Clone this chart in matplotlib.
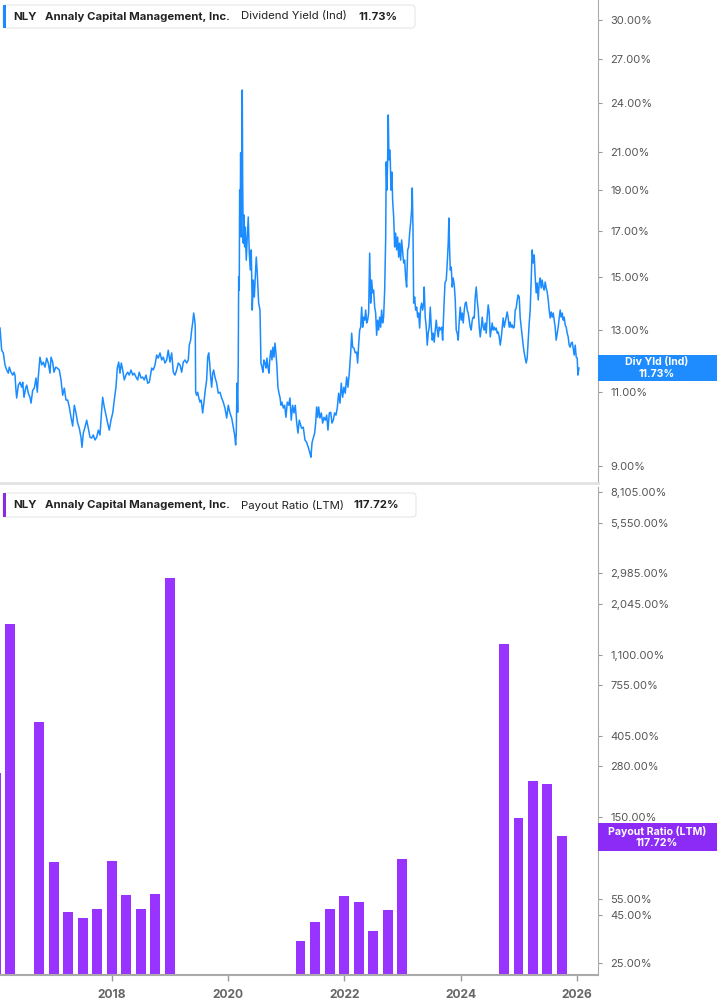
import numpy as np
import pandas as pd
import matplotlib
matplotlib.use('Agg')
import matplotlib.pyplot as plt
from matplotlib.patches import FancyBboxPatch, Rectangle
from matplotlib.ticker import FixedLocator, FuncFormatter, NullLocator

plt.rcParams['font.family'] = ['Inter', 'DejaVu Sans']

# dividend yield (ind), % -- x as decimal year
yld_years = [
    2016.072, 2016.101, 2016.129, 2016.158, 2016.187, 2016.215, 2016.232, 2016.261, 2016.291, 2016.313,
    2016.330, 2016.347, 2016.359, 2016.387, 2016.416, 2016.445, 2016.463, 2016.485, 2016.514, 2016.532,
    2016.559, 2016.588, 2016.606, 2016.635, 2016.662, 2016.692, 2016.714, 2016.731, 2016.760, 2016.790,
    2016.817, 2016.846, 2016.876, 2016.903, 2016.933, 2016.950, 2016.979, 2017.001, 2017.031, 2017.058,
    2017.093, 2017.122, 2017.151, 2017.179, 2017.208, 2017.237, 2017.265, 2017.294, 2017.323, 2017.351,
    2017.380, 2017.409, 2017.437, 2017.466, 2017.483, 2017.506, 2017.535, 2017.564, 2017.592, 2017.621,
    2017.650, 2017.678, 2017.707, 2017.736, 2017.764, 2017.793, 2017.822, 2017.839, 2017.867, 2017.896,
    2017.925, 2017.953, 2017.982, 2018.012, 2018.039, 2018.068, 2018.091, 2018.115, 2018.137, 2018.160,
    2018.184, 2018.211, 2018.240, 2018.270, 2018.297, 2018.327, 2018.356, 2018.383, 2018.413, 2018.442,
    2018.469, 2018.499, 2018.528, 2018.555, 2018.585, 2018.614, 2018.642, 2018.683, 2018.710, 2018.740,
    2018.769, 2018.796, 2018.826, 2018.855, 2018.882, 2018.912, 2018.941, 2018.968, 2018.998, 2019.027,
    2019.055, 2019.084, 2019.113, 2019.141, 2019.170, 2019.199, 2019.227, 2019.256, 2019.285, 2019.313,
    2019.330, 2019.354, 2019.371, 2019.388, 2019.406, 2019.423, 2019.433, 2019.440, 2019.457, 2019.474,
    2019.492, 2019.514, 2019.536, 2019.560, 2019.583, 2019.605, 2019.629, 2019.647, 2019.664, 2019.681,
    2019.698, 2019.715, 2019.733, 2019.750, 2019.772, 2019.801, 2019.829, 2019.858, 2019.887, 2019.915,
    2019.944, 2019.974, 2020.001, 2020.030, 2020.060, 2020.087, 2020.111, 2020.128, 2020.139, 2020.151,
    2020.163, 2020.173, 2020.180, 2020.190, 2020.197, 2020.208, 2020.214, 2020.225, 2020.237, 2020.242,
    2020.249, 2020.259, 2020.271, 2020.283, 2020.294, 2020.311, 2020.328, 2020.345, 2020.363, 2020.380,
    2020.397, 2020.414, 2020.431, 2020.449, 2020.466, 2020.483, 2020.500, 2020.524, 2020.547, 2020.564,
    2020.581, 2020.598, 2020.615, 2020.633, 2020.650, 2020.667, 2020.684, 2020.701, 2020.719, 2020.736,
    2020.753, 2020.770, 2020.788, 2020.805, 2020.822, 2020.839, 2020.856, 2020.874, 2020.891, 2020.908,
    2020.925, 2020.948, 2020.972, 2020.994, 2021.017, 2021.041, 2021.063, 2021.085, 2021.109, 2021.132,
    2021.154, 2021.178, 2021.201, 2021.223, 2021.264, 2021.292, 2021.321, 2021.350, 2021.378, 2021.407,
    2021.424, 2021.442, 2021.464, 2021.488, 2021.505, 2021.522, 2021.540, 2021.557, 2021.579, 2021.602,
    2021.626, 2021.648, 2021.671, 2021.695, 2021.717, 2021.740, 2021.764, 2021.786, 2021.808, 2021.832,
    2021.855, 2021.877, 2021.901, 2021.924, 2021.946, 2021.970, 2021.992, 2022.015, 2022.039, 2022.061,
    2022.084, 2022.108, 2022.125, 2022.142, 2022.164, 2022.187, 2022.211, 2022.228, 2022.245, 2022.263,
    2022.280, 2022.297, 2022.314, 2022.331, 2022.349, 2022.366, 2022.383, 2022.400, 2022.417, 2022.435,
    2022.452, 2022.469, 2022.486, 2022.503, 2022.521, 2022.538, 2022.555, 2022.572, 2022.589, 2022.607,
    2022.624, 2022.641, 2022.658, 2022.675, 2022.693, 2022.710, 2022.720, 2022.732, 2022.744, 2022.755,
    2022.767, 2022.779, 2022.789, 2022.801, 2022.818, 2022.830, 2022.848, 2022.865, 2022.882, 2022.899,
    2022.916, 2022.934, 2022.951, 2022.968, 2022.985, 2023.003, 2023.020, 2023.037, 2023.054, 2023.071,
    2023.089, 2023.106, 2023.123, 2023.140, 2023.157, 2023.168, 2023.180, 2023.192, 2023.209, 2023.226,
    2023.244, 2023.261, 2023.278, 2023.295, 2023.312, 2023.329, 2023.347, 2023.364, 2023.374, 2023.391,
    2023.409, 2023.426, 2023.443, 2023.460, 2023.478, 2023.495, 2023.512, 2023.529, 2023.546, 2023.564,
    2023.581, 2023.598, 2023.615, 2023.632, 2023.644, 2023.674, 2023.691, 2023.713, 2023.731, 2023.753,
    2023.770, 2023.787, 2023.799, 2023.811, 2023.822, 2023.839, 2023.856, 2023.873, 2023.891, 2023.908,
    2023.925, 2023.942, 2023.959, 2023.977, 2023.994, 2024.011, 2024.028, 2024.045, 2024.063, 2024.080,
    2024.097, 2024.114, 2024.131, 2024.149, 2024.166, 2024.183, 2024.200, 2024.217, 2024.235, 2024.252,
    2024.269, 2024.286, 2024.303, 2024.321, 2024.338, 2024.355, 2024.372, 2024.389, 2024.407, 2024.424,
    2024.441, 2024.458, 2024.475, 2024.493, 2024.510, 2024.527, 2024.544, 2024.561, 2024.579, 2024.596,
    2024.613, 2024.630, 2024.647, 2024.665, 2024.682, 2024.699, 2024.716, 2024.733, 2024.751, 2024.768,
    2024.785, 2024.802, 2024.819, 2024.837, 2024.854, 2024.871, 2024.888, 2024.905, 2024.923, 2024.940,
    2024.957, 2024.974, 2024.991, 2025.009, 2025.026, 2025.043, 2025.060, 2025.077, 2025.095, 2025.112,
    2025.129, 2025.146, 2025.163, 2025.181, 2025.198, 2025.215, 2025.232, 2025.250, 2025.267, 2025.284,
    2025.301, 2025.318, 2025.336, 2025.353, 2025.370, 2025.387, 2025.404, 2025.422, 2025.439, 2025.456,
    2025.473, 2025.491, 2025.508, 2025.525, 2025.542, 2025.559, 2025.577, 2025.594, 2025.611, 2025.628,
    2025.645, 2025.663, 2025.680, 2025.697, 2025.714, 2025.731, 2025.749, 2025.766, 2025.783, 2025.800,
    2025.818, 2025.835, 2025.852, 2025.869, 2025.886, 2025.904, 2025.921, 2025.938, 2025.955, 2025.973,
    2025.990, 2026.007, 2026.019, 2026.037,
]
yld_vals = [
    13.07, 12.31, 12.22, 11.83, 11.67, 11.57, 11.76, 11.60, 11.51, 11.60,
    11.51, 11.05, 10.82, 11.20, 11.29, 11.14, 11.29, 10.84, 11.11, 11.20,
    10.96, 10.84, 10.67, 11.05, 11.11, 11.42, 10.99, 11.45, 12.08, 11.83,
    11.92, 11.76, 12.05, 11.89, 11.57, 12.08, 11.92, 11.60, 11.76, 11.73,
    11.67, 11.36, 10.90, 11.11, 10.76, 10.76, 10.56, 10.27, 10.03, 10.61,
    10.39, 10.11, 9.97, 9.73, 9.47, 9.84, 10.00, 10.19, 9.97, 9.73,
    9.71, 9.79, 9.66, 9.73, 9.92, 9.79, 10.47, 10.84, 10.56, 10.33,
    10.11, 9.92, 10.19, 10.39, 10.76, 11.14, 11.73, 11.92, 11.57, 11.89,
    11.67, 11.36, 11.51, 11.60, 11.51, 11.67, 11.51, 11.57, 11.45, 11.36,
    11.60, 11.42, 11.45, 11.36, 11.51, 11.26, 11.29, 11.73, 11.67, 11.83,
    12.15, 12.05, 12.22, 11.99, 12.08, 11.89, 11.99, 12.31, 11.92, 12.22,
    11.60, 11.51, 11.67, 11.89, 11.83, 11.60, 11.92, 11.99, 11.89, 11.99,
    12.48, 12.65, 13.00, 13.25, 13.61, 13.35, 13.10, 10.99, 10.90, 10.99,
    10.84, 10.70, 10.76, 10.39, 10.70, 11.05, 11.36, 12.08, 12.22, 11.89,
    11.45, 11.14, 11.57, 11.67, 11.45, 11.26, 10.96, 10.99, 10.82, 10.70,
    10.53, 10.25, 10.61, 10.39, 10.25, 10.00, 9.79, 9.53, 9.84, 11.26,
    10.41, 11.89, 15.00, 14.48, 18.97, 18.12, 20.98, 16.71, 22.48, 24.86,
    19.34, 16.44, 17.74, 16.27, 17.17, 15.70, 16.71, 17.64, 16.00, 15.29,
    16.14, 13.72, 14.88, 14.21, 15.00, 15.83, 15.16, 13.98, 13.72, 11.89,
    11.76, 11.60, 11.99, 11.89, 11.73, 12.05, 11.76, 11.57, 12.08, 12.31,
    11.99, 12.41, 12.08, 12.55, 12.22, 11.76, 11.14, 10.96, 10.84, 10.61,
    10.70, 10.53, 10.61, 10.27, 10.70, 10.61, 10.82, 10.19, 10.61, 10.39,
    10.61, 10.14, 9.84, 10.19, 9.97, 10.00, 9.66, 9.60, 9.47, 9.32,
    9.22, 9.58, 9.71, 9.84, 10.11, 10.56, 10.27, 10.56, 10.25, 10.39,
    10.11, 10.27, 10.19, 10.33, 9.92, 10.39, 10.41, 10.11, 10.19, 10.39,
    10.33, 10.53, 10.96, 10.67, 11.26, 10.84, 11.14, 10.96, 11.45, 11.14,
    11.57, 12.22, 12.89, 12.41, 12.38, 12.22, 12.25, 11.89, 12.48, 13.00,
    13.10, 13.83, 13.10, 13.46, 13.35, 13.72, 13.25, 13.35, 13.61, 16.00,
    13.98, 14.88, 14.37, 14.48, 13.83, 13.61, 12.82, 13.35, 13.00, 13.46,
    13.10, 13.72, 13.25, 13.46, 14.48, 16.58, 20.47, 18.97, 20.58, 23.24,
    20.58, 21.15, 20.69, 18.97, 19.92, 18.47, 17.64, 16.27, 16.89, 16.14,
    16.71, 15.83, 16.44, 15.70, 16.58, 16.05, 15.58, 15.70, 15.00, 14.60,
    16.14, 16.27, 16.89, 17.36, 17.98, 19.08, 17.17, 13.98, 14.21, 13.72,
    13.83, 13.46, 13.61, 13.07, 13.79, 13.98, 13.72, 13.98, 14.60, 13.46,
    13.10, 12.48, 12.89, 13.10, 13.83, 13.10, 12.65, 12.89, 12.58, 13.00,
    13.35, 13.00, 12.76, 13.10, 13.00, 13.10, 12.65, 13.83, 14.76, 14.88,
    15.58, 16.44, 17.59, 16.14, 15.29, 15.41, 14.60, 14.96, 14.68, 14.10,
    13.00, 12.89, 12.65, 13.35, 13.83, 13.35, 13.61, 13.25, 13.72, 13.98,
    14.02, 13.72, 13.61, 13.35, 13.10, 13.00, 13.35, 13.46, 13.43, 14.21,
    14.60, 14.10, 13.72, 13.10, 12.76, 13.07, 13.46, 13.10, 13.00, 13.25,
    12.89, 13.46, 13.91, 13.61, 12.76, 13.00, 13.25, 13.00, 13.10, 13.00,
    13.07, 12.89, 12.93, 12.76, 12.48, 12.72, 13.07, 13.43, 13.10, 13.28,
    13.46, 13.65, 13.43, 13.10, 13.28, 13.10, 13.18, 13.07, 13.10, 13.72,
    13.79, 14.10, 14.29, 14.21, 13.43, 13.10, 12.76, 12.48, 12.22, 12.05,
    11.89, 12.05, 12.65, 13.25, 13.72, 14.88, 16.14, 15.58, 15.92, 15.00,
    14.37, 14.76, 14.10, 14.76, 14.96, 14.56, 14.88, 14.60, 14.48, 14.80,
    14.56, 14.40, 14.10, 13.72, 13.43, 13.65, 13.46, 13.61, 13.35, 13.10,
    12.65, 12.89, 13.10, 13.43, 13.72, 13.46, 13.61, 13.35, 13.46, 13.18,
    13.10, 12.89, 12.76, 12.48, 12.41, 12.55, 12.58, 12.38, 12.15, 12.48,
    12.08, 12.05, 11.51, 11.73,
]

# payout ratio (LTM), % -- quarter ends
payout_dates = ['2015-12-31', '2016-03-31', '2016-09-30', '2016-12-31', '2017-03-31',
                '2017-06-30', '2017-09-30', '2017-12-31', '2018-03-31', '2018-06-30',
                '2018-09-30', '2018-12-31',
                '2021-03-31', '2021-06-30', '2021-09-30', '2021-12-31', '2022-03-31',
                '2022-06-30', '2022-09-30', '2022-12-31',
                '2024-09-30', '2024-12-31', '2025-03-31', '2025-06-30', '2025-09-30']
payout_vals = [257, 1600, 481, 85.3, 45.6, 42.4, 47.3, 86.3, 56.9, 47.3, 57.6, 2815,
               31.6, 40.3, 47.3, 56.2, 51.6, 36.1, 46.8, 88.5,
               1252, 148, 233, 225, 117.72]

yld_ticks = [9, 11, 13, 15, 17, 19, 21, 24, 27, 30]
payout_ticks = [25, 45, 55, 105, 150, 280, 405, 755, 1100, 2045, 2985, 5550, 8105]
year_ticks = [2018, 2020, 2022, 2024, 2026]

BLUE = '#1a8cff'
PURPLE = '#9933ff'
W, H = 717, 1005

fig = plt.figure(figsize=(W / 100, H / 100), dpi=100)


def fx(px):
    return px / W


def fy(py):
    return 1 - py / H


ax1 = fig.add_axes([0, fy(483), fx(598), 483 / H])
ax2 = fig.add_axes([0, fy(975), fx(598), (975 - 487) / H])

# top: dividend yield line
ax1.plot(yld_years, yld_vals, color=BLUE, lw=1.1)
ax1.set_yscale('log')
ax1.set_ylim(8.60, 31.7)

# bottom: payout ratio bars
d = pd.to_datetime(payout_dates)
bar_x = d.year + (d.dayofyear - 1) / np.where(d.is_leap_year, 366, 365)
ax2.set_yscale('log')
ax2.bar(bar_x, payout_vals, width=0.17, bottom=1, color=PURPLE, linewidth=0)
ax2.set_ylim(21.6, 8593)

for ax in (ax1, ax2):
    ax.set_xlim(2016.072, 2026.365)
    ax.yaxis.tick_right()
    ax.yaxis.set_minor_locator(NullLocator())
    ax.spines['top'].set_visible(False)
    ax.spines['left'].set_visible(False)
    ax.spines['right'].set_color('#aaaaaa')
    ax.tick_params(axis='y', direction='out', length=3, width=0.8, color='#999999',
                   labelsize=8, labelcolor='#555555', pad=6)

ax1.yaxis.set_major_locator(FixedLocator(yld_ticks))
ax1.yaxis.set_major_formatter(FuncFormatter(lambda v, p: f'{v:.2f}%'))
ax1.set_xticks([])
ax1.spines['bottom'].set_color('#e2e2e2')
ax1.spines['bottom'].set_linewidth(2)

ax2.yaxis.set_major_locator(FixedLocator(payout_ticks))
ax2.yaxis.set_major_formatter(FuncFormatter(lambda v, p: f'{v:,.2f}%'))
ax2.spines['bottom'].set_color('#aaaaaa')
ax2.spines['bottom'].set_linewidth(1.5)
ax2.set_xticks(year_ticks)
ax2.set_xticklabels([str(y) for y in year_ticks])
ax2.tick_params(axis='x', direction='out', length=4, width=1, color='#999999',
                labelsize=8.7, labelcolor='#666666', pad=6)
for lab in ax2.get_xticklabels():
    lab.set_fontweight('bold')


def title_box(top, bottom, right, color, parts):
    fig.add_artist(FancyBboxPatch((fx(3), fy(bottom)), fx(right - 3), (bottom - top) / H,
                                  boxstyle='round,pad=0,rounding_size=0.004',
                                  transform=fig.transFigure, fc='white', ec='#e6e6e6', lw=0.8))
    fig.add_artist(Rectangle((fx(3), fy(bottom)), fx(3), (bottom - top) / H,
                             transform=fig.transFigure, fc=color, ec='none'))
    yc = fy((top + bottom) / 2)
    for xpx, txt, wt in parts:
        fig.text(fx(xpx), yc, txt, fontsize=8.2, fontweight=wt, color='#222222',
                 ha='left', va='center')


title_box(5, 28, 415, BLUE,
          [(13, 'NLY', 'bold'), (45, 'Annaly Capital Management, Inc.', 'bold'),
           (241, 'Dividend Yield (Ind)', 'normal'), (358, '11.73%', 'bold')])
title_box(493, 517, 416, '#8a2be2',
          [(13, 'NLY', 'bold'), (45, 'Annaly Capital Management, Inc.', 'bold'),
           (241, 'Payout Ratio (LTM)', 'normal'), (353, '117.72%', 'bold')])


def value_tag(top, bottom, color, line1, line2):
    fig.add_artist(Rectangle((fx(598), fy(bottom)), fx(717 - 598), (bottom - top) / H,
                             transform=fig.transFigure, fc=color, ec='none'))
    mid = (top + bottom) / 2
    fig.text(fx(657), fy(mid - 6), line1, fontsize=7.6, fontweight='bold', color='white',
             ha='center', va='center')
    fig.text(fx(657), fy(mid + 6), line2, fontsize=7.6, fontweight='bold', color='white',
             ha='center', va='center')


value_tag(355, 381, '#1e8cff', 'Div Yld (Ind)', '11.73%')
value_tag(823, 851, '#8c2bf5', 'Payout Ratio (LTM)', '117.72%')

fig.savefig('out.png', dpi=100)
